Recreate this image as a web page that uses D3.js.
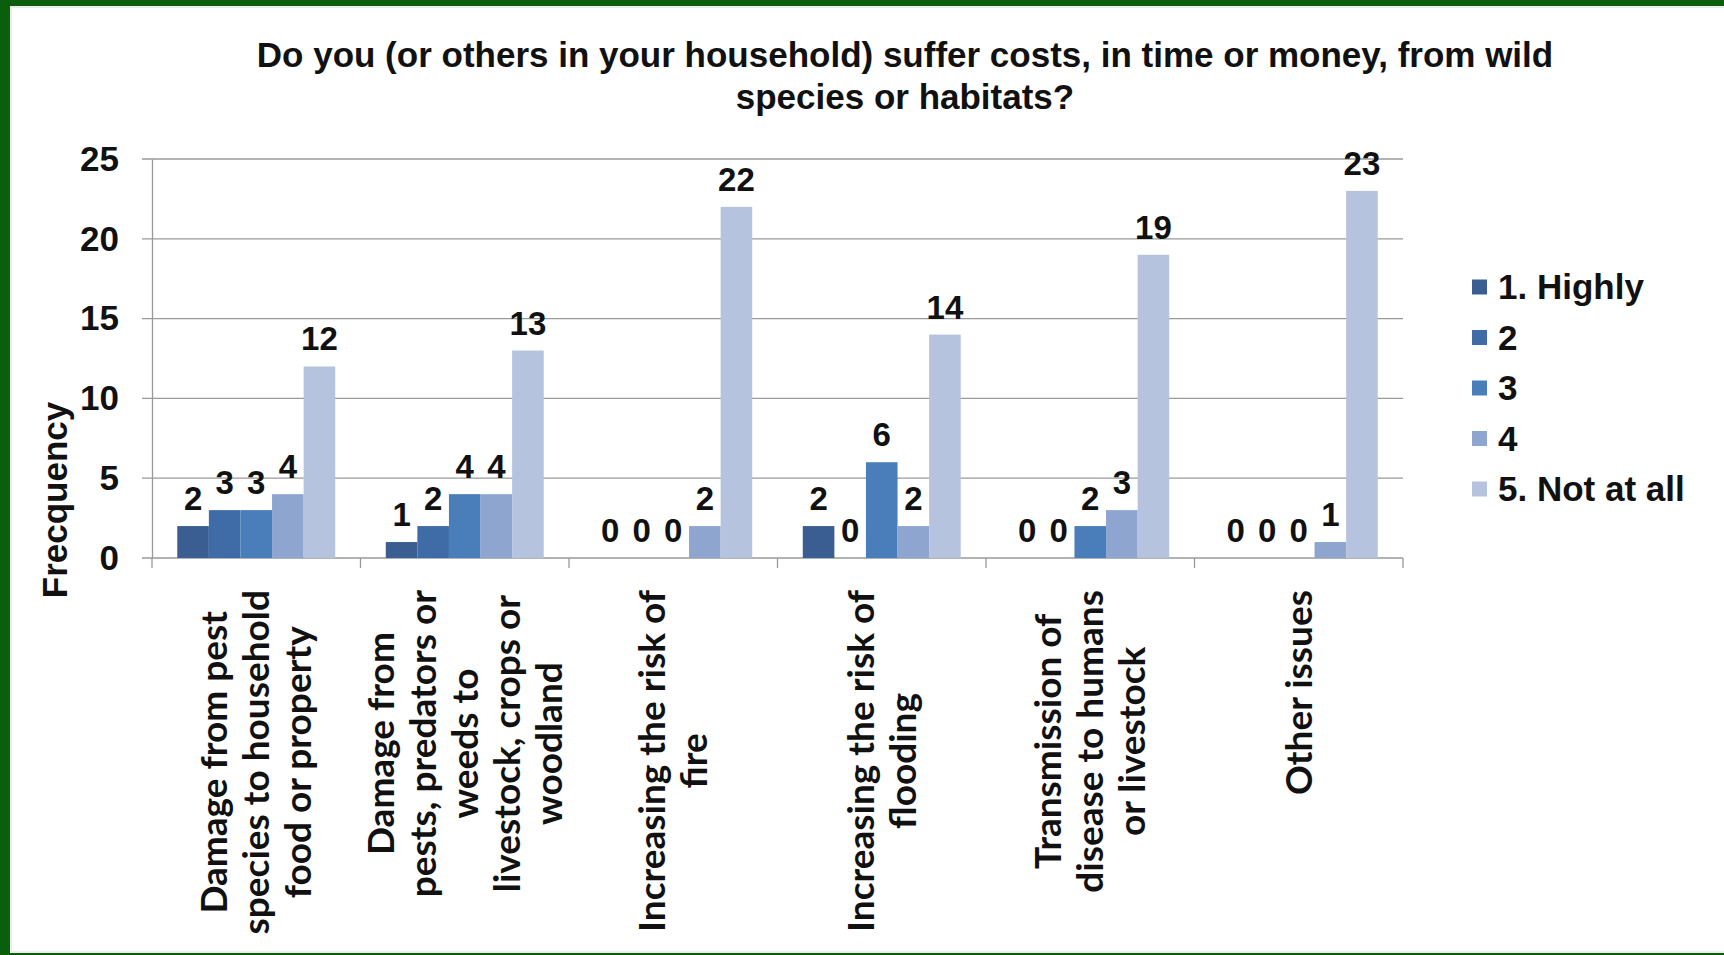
<!DOCTYPE html>
<html>
<head>
<meta charset="utf-8">
<script src="https://cdn.jsdelivr.net/npm/d3@7/dist/d3.min.js"></script>
<style>
  html, body { margin: 0; padding: 0; background: #0b5e0b; }
  svg { display: block; }
</style>
</head>
<body>
<svg id="chart" width="1724" height="955"></svg>
<script>
// data
const categories = [
  "Damage from pest species to household food or property",
  "Damage from pests, predators or weeds to livestock, crops or woodland",
  "Increasing the risk of fire",
  "Increasing the risk of flooding",
  "Transmission of disease to humans or livestock",
  "Other issues"
];
const categoryLines = [
  ["Damage from pest", "species to household", "food or property"],
  ["Damage from", "pests, predators or", "weeds to", "livestock, crops or", "woodland"],
  ["Increasing the risk of", "fire"],
  ["Increasing the risk of", "flooding"],
  ["Transmission of", "disease to humans", "or livestock"],
  ["Other issues"]
];
const seriesNames = ["1. Highly", "2", "3", "4", "5. Not at all"];
const highly   = [2, 1, 0, 2, 0, 0];
const two      = [3, 2, 0, 0, 0, 0];
const three    = [3, 4, 0, 6, 2, 0];
const four     = [4, 4, 2, 2, 3, 1];
const notAtAll = [12, 13, 22, 14, 19, 23];
const seriesValues = [highly, two, three, four, notAtAll];
const yTicks = [0, 5, 10, 15, 20, 25];
const titleLines = ["Do you (or others in your household) suffer costs, in time or money, from wild", "species or habitats?"];

const colors = ["#3a5e91", "#3f6ca6", "#4a7ebb", "#8ea5cf", "#b6c3df"];

const svg = d3.select("#chart");
const W = 1724, H = 955;

// white slide panel inside the green frame
svg.append("rect").attr("x", 10).attr("y", 6).attr("width", W - 10).attr("height", H - 8)
  .attr("fill", "#ececec");
svg.append("rect").attr("x", 12).attr("y", 8).attr("width", W - 12).attr("height", H - 12)
  .attr("fill", "#ffffff");

const plot = { left: 152, right: 1403, top: 159, bottom: 558 };

const x0 = d3.scaleBand().domain(categories).range([plot.left, plot.right]).padding(0);
const x1 = d3.scaleBand().domain(seriesNames).range([0, x0.bandwidth()]).paddingInner(0).paddingOuter(0.8);
const y = d3.scaleLinear().domain([0, 25]).range([plot.bottom, plot.top]);

const boldArial = "'Liberation Sans', Arial, sans-serif";

// title
svg.append("g").selectAll("text").data(titleLines).join("text")
  .attr("x", 905)
  .attr("y", (d, i) => 67 + i * 42)
  .attr("text-anchor", "middle")
  .attr("font-family", boldArial)
  .attr("font-weight", "bold")
  .attr("font-size", 35)
  .attr("fill", "#111")
  .text(d => d);

// gridlines
svg.append("g").selectAll("line").data(yTicks).join("line")
  .attr("x1", plot.left - 10).attr("x2", plot.right)
  .attr("y1", d => y(d)).attr("y2", d => y(d))
  .attr("stroke", "#9a9a9a").attr("stroke-width", 1.3);

// y axis
const yAxis = svg.append("g")
  .attr("transform", `translate(${plot.left},0)`)
  .call(d3.axisLeft(y).tickValues(yTicks).tickSize(0).tickPadding(33));
yAxis.select(".domain").attr("stroke", "#9a9a9a").attr("stroke-width", 1.3);
yAxis.selectAll("text")
  .attr("font-family", boldArial).attr("font-weight", "bold")
  .attr("font-size", 35).attr("fill", "#111");

// x axis boundary ticks
const bounds = categories.map(c => x0(c)).concat([plot.right]);
svg.append("g").selectAll("line").data(bounds).join("line")
  .attr("x1", d => d).attr("x2", d => d)
  .attr("y1", plot.bottom).attr("y2", plot.bottom + 10)
  .attr("stroke", "#9a9a9a").attr("stroke-width", 1.3);

// bars
const groups = svg.append("g").selectAll("g").data(categories).join("g")
  .attr("transform", c => `translate(${x0(c)},0)`);

groups.selectAll("rect")
  .data((c, ci) => seriesNames.map((s, si) => ({ s, si, v: seriesValues[si][ci] })))
  .join("rect")
  .attr("x", d => x1(d.s))
  .attr("width", x1.bandwidth())
  .attr("y", d => y(d.v))
  .attr("height", d => y(0) - y(d.v))
  .attr("fill", d => colors[d.si]);

groups.selectAll("text.val")
  .data((c, ci) => seriesNames.map((s, si) => ({ s, si, v: seriesValues[si][ci] })))
  .join("text")
  .attr("class", "val")
  .attr("x", d => x1(d.s) + x1.bandwidth() / 2)
  .attr("y", d => y(d.v) - 16)
  .attr("text-anchor", "middle")
  .attr("font-family", boldArial).attr("font-weight", "bold")
  .attr("font-size", 33).attr("fill", "#111")
  .text(d => d.v);

// rotated category labels
const lineH = 42;
categories.forEach((c, ci) => {
  const lines = categoryLines[ci];
  const g = svg.append("g")
    .attr("transform", `translate(${x0(c) + x0.bandwidth() / 2},590) rotate(-90)`);
  const t = g.selectAll("text").data(lines).join("text")
    .attr("y", (d, i) => (i - (lines.length - 1) / 2) * lineH)
    .attr("dy", "0.35em")
    .attr("text-anchor", "middle")
    .attr("font-family", "Lato, 'Open Sans', sans-serif")
    .attr("font-weight", "bold")
    .attr("font-size", 37)
    .attr("fill", "#111")
    .text(d => d);
  let maxLen = 0;
  t.each(function () { maxLen = Math.max(maxLen, this.getComputedTextLength()); });
  t.attr("x", -maxLen / 2);
});

// y axis title
svg.append("text")
  .attr("transform", "translate(55,500) rotate(-90)")
  .attr("dy", "0.35em")
  .attr("text-anchor", "middle")
  .attr("font-family", boldArial).attr("font-weight", "bold")
  .attr("font-size", 35).attr("fill", "#111")
  .text("Frecquency");

// legend
const legend = svg.append("g").selectAll("g").data(seriesNames).join("g")
  .attr("transform", (d, i) => `translate(1472,${287 + i * 50.5})`);
legend.append("rect")
  .attr("x", 0).attr("y", -7.5).attr("width", 15).attr("height", 15)
  .attr("fill", (d, i) => colors[i]);
legend.append("text")
  .attr("x", 26).attr("dy", "0.35em")
  .attr("font-family", boldArial).attr("font-weight", "bold")
  .attr("font-size", 35).attr("fill", "#111")
  .text(d => d);
</script>
</body>
</html>
